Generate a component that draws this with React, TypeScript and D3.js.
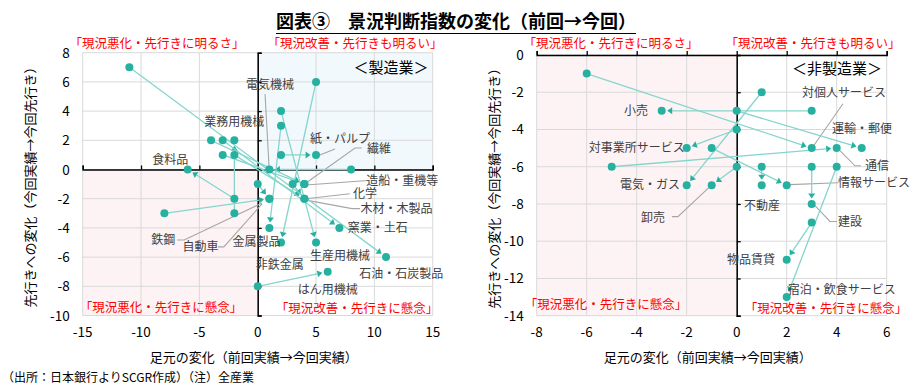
import React, { useEffect, useRef } from "react";
import * as d3 from "d3";

// 製造業 (前回 -> 今回)
const mfgNames = ["電気機械", "業務用機械", "食料品", "紙・パルプ", "繊維", "造船・重機等", "化学", "木材・木製品", "窯業・土石", "石油・石炭製品", "生産用機械", "はん用機械", "非鉄金属", "金属製品", "自動車", "鉄鋼"];
const mfgPrevX = [8, -2, -2, 2, -3, -4, -2, 3, -3, -11, 2, 0, 5, 2, 0, -8];
const mfgPrevY = [0, -3, -2, 1, 1, 2, 1, -1, 2, 7, 4, -8, 6, 3, -1, -3];
const mfgNowX = [1, -2, -6, 5, 4, 4, 4, 4, 7, 11, 5, 6, 2, 1, 1, 1];
const mfgNowY = [0, 2, 0, 1, -1, -1, -2, -2, -4, -6, -5, -7, -5, -4, -2, -2];

// 非製造業 (前回 -> 今回)
const nonNames = ["小売", "対事業所サービス", "電気・ガス", "卸売", "対個人サービス", "運輸・郵便", "通信", "情報サービス", "不動産", "建設", "物品賃貸", "宿泊・飲食サービス"];
const nonPrevX = [3, 0, 1, 0, -6, 0, -5, -1, 1, 3, 3, 4];
const nonPrevY = [-3, -4, -2, -6, -1, -3, -6, -5, -6, -6, -9, -6];
const nonNowX = [-3, -2, -2, -1, 3, 5, 4, 2, 1, 3, 2, 2];
const nonNowY = [-3, -5, -7, -7, -5, -5, -5, -7, -7, -8, -11, -13];

// tick labels
const mfgXTicks = [-15, -10, -5, 0, 5, 10, 15];
const mfgYTicks = [-10, -8, -6, -4, -2, 0, 2, 4, 6, 8];
const nonXTicks = [-8, -6, -4, -2, 0, 2, 4, 6];
const nonYTicks = [-14, -12, -10, -8, -6, -4, -2, 0];

// label placement (data coords) and leader lines, layout only
const mfgLabelPos = [[1.05, 5.8], [-2.0, 3.3], [-7.5, 0.7], [7.05, 2.15], [10.4, 1.45], [12.4, -0.75], [9.2, -1.66], [11.9, -2.66], [10.3, -4.0], [12.3, -7.1], [7.05, -5.9], [6.0, -8.25], [1.9, -6.5], [-0.1, -4.9], [-4.9, -5.3], [-8.1, -4.8]];
const mfgLeaders = [
  [[0.63, 5.17], [0.97, 0.24]],
  [[6.62, 1.4], [5.33, 0.99]],
  [[8.93, 1.47], [8.34, 1.47], [4.14, -0.92]],
  [[9.45, -0.75], [4.14, -1.06]],
  [[7.9, -1.66], [4.14, -2.0]],
  [[8.77, -2.68], [8.08, -2.68], [4.14, -2.1]],
  [[-3.4, -5.3], [-2.9, -5.3], [0.37, -2.36]],
  [[-6.9, -4.83], [-6.3, -4.83], [0.37, -2.3]],
];
const nonLabelPos = [[-4.03, -3.0], [-4.0, -4.98], [-3.47, -6.96], [-3.35, -8.73], [4.29, -2.04], [5.01, -3.96], [5.61, -5.95], [5.49, -6.86], [1.01, -8.09], [4.53, -8.94], [0.57, -10.98], [4.2, -12.6]];
const nonLeaders = [
  [[-2.59, -8.68], [-2.35, -8.68], [-1.03, -7.02]],
  [[4.25, -2.62], [3.05, -4.93]],
  [[4.97, -5.95], [4.73, -5.95], [4.13, -5.14]],
  [[4.05, -6.86], [2.13, -6.96]],
  [[4.01, -8.94], [3.73, -8.94], [3.13, -8.09]],
];

const FONT = "'Noto Sans CJK JP', 'Noto Sans', sans-serif";
const DOT = "#26b0a0";
const LINE = "#84d5cc";
const RED = "#ff0000";
const TXT = "#404040";

function drawPanel(svg, opt) {
  const x = d3.scaleLinear().domain(opt.xDomain).range(opt.xRange);
  const y = d3.scaleLinear().domain(opt.yDomain).range(opt.yRange);
  const g = svg.append("g");

  // quadrant shading
  opt.shades.forEach((s) => {
    g.append("rect")
      .attr("x", x(s[0]))
      .attr("y", y(s[3]))
      .attr("width", x(s[1]) - x(s[0]))
      .attr("height", y(s[2]) - y(s[3]))
      .attr("fill", s[4]);
  });

  // grid
  g.selectAll(".gx")
    .data(opt.xTicks)
    .join("line")
    .attr("x1", (d) => x(d))
    .attr("x2", (d) => x(d))
    .attr("y1", y(opt.yDomain[0]))
    .attr("y2", y(opt.yDomain[1]))
    .attr("stroke", "#d9d9d9");
  g.selectAll(".gy")
    .data(opt.yTicks)
    .join("line")
    .attr("y1", (d) => y(d))
    .attr("y2", (d) => y(d))
    .attr("x1", x(opt.xDomain[0]))
    .attr("x2", x(opt.xDomain[1]))
    .attr("stroke", "#d9d9d9");

  // axes through origin
  const hAxis = g.append("g").attr("transform", `translate(0,${y(0)})`);
  hAxis.call(d3.axisTop(x).tickValues(opt.xTicks).tickSize(4).tickFormat(() => ""));
  const vAxis = g.append("g").attr("transform", `translate(${x(0)},0)`);
  vAxis.call(d3.axisRight(y).tickValues(opt.yTicks).tickSize(4).tickFormat(() => ""));
  [hAxis, vAxis].forEach((a) => {
    a.select(".domain").attr("stroke", "#000").attr("stroke-width", 1.5);
    a.selectAll(".tick line").attr("stroke", "#000").attr("stroke-width", 1.3);
  });

  // tick labels
  g.selectAll(".tx")
    .data(opt.xTicks)
    .join("text")
    .attr("x", (d) => x(d))
    .attr("y", y(opt.yDomain[0]) + 21)
    .attr("text-anchor", "middle")
    .attr("font-size", 13.5)
    .attr("font-family", FONT)
    .attr("fill", "#000")
    .text((d) => d);
  g.selectAll(".ty")
    .data(opt.yTicks)
    .join("text")
    .attr("x", x(opt.xDomain[0]) - 13)
    .attr("y", (d) => y(d) + 5)
    .attr("text-anchor", "end")
    .attr("font-size", 13.5)
    .attr("font-family", FONT)
    .attr("fill", "#000")
    .text((d) => d);

  // leader lines
  const leader = d3.line().x((p) => x(p[0])).y((p) => y(p[1]));
  opt.leaders.forEach((l) => {
    g.append("path").attr("d", leader(l)).attr("fill", "none").attr("stroke", "#a6a6a6").attr("stroke-width", 1.1);
  });

  // arrows: previous -> current
  const r = 4;
  opt.prevX.forEach((_, i) => {
    const x1 = x(opt.prevX[i]), y1 = y(opt.prevY[i]);
    const x2 = x(opt.nowX[i]), y2 = y(opt.nowY[i]);
    const len = Math.hypot(x2 - x1, y2 - y1);
    const ux = (x2 - x1) / len, uy = (y2 - y1) / len;
    const tipX = x2 - ux * (r + 1.5), tipY = y2 - uy * (r + 1.5);
    const bx = tipX - ux * 5, by = tipY - uy * 5;
    g.append("line")
      .attr("x1", x1).attr("y1", y1).attr("x2", bx).attr("y2", by)
      .attr("stroke", LINE).attr("stroke-width", 1.3);
    g.append("path")
      .attr("d", `M${tipX},${tipY}L${bx - uy * 3.5},${by + ux * 3.5}L${bx + uy * 3.5},${by - ux * 3.5}Z`)
      .attr("fill", DOT);
  });
  const pts = opt.prevX.map((d, i) => [d, opt.prevY[i]]).concat(opt.nowX.map((d, i) => [d, opt.nowY[i]]));
  g.selectAll(".dot")
    .data(pts)
    .join("circle")
    .attr("cx", (d) => x(d[0]))
    .attr("cy", (d) => y(d[1]))
    .attr("r", r)
    .attr("fill", DOT);

  // industry labels
  g.selectAll(".lab")
    .data(opt.names)
    .join("text")
    .attr("x", (d, i) => x(opt.labelPos[i][0]))
    .attr("y", (d, i) => y(opt.labelPos[i][1]) + 4.5)
    .attr("text-anchor", "middle")
    .attr("font-size", 12)
    .attr("font-family", FONT)
    .attr("fill", TXT)
    .text((d) => d);

  // quadrant captions
  opt.captions.forEach((c) => {
    g.append("text")
      .attr("x", c[1]).attr("y", c[2])
      .attr("text-anchor", "middle")
      .attr("font-size", 12.5)
      .attr("font-family", FONT)
      .attr("fill", RED)
      .text(c[0]);
  });
  g.append("text")
    .attr("x", opt.tag[1]).attr("y", opt.tag[2])
    .attr("text-anchor", "middle")
    .attr("font-size", 15)
    .attr("font-family", FONT)
    .attr("fill", "#000")
    .text(opt.tag[0]);

  // axis titles
  const cx = (opt.xRange[0] + opt.xRange[1]) / 2;
  g.append("text")
    .attr("x", cx - 4).attr("y", 362)
    .attr("text-anchor", "middle")
    .attr("font-size", 13)
    .attr("font-family", FONT)
    .attr("fill", "#000")
    .text("足元の変化（前回実績→今回実績）");
  const cy = (opt.yRange[0] + opt.yRange[1]) / 2;
  g.append("text")
    .attr("transform", `translate(${opt.yTitleX},${cy}) rotate(-90)`)
    .attr("text-anchor", "middle")
    .attr("font-size", 13)
    .attr("font-family", FONT)
    .attr("fill", "#000")
    .text("先行きへの変化（今回実績→今回先行き）");
}

function App() {
  const ref = useRef(null);

  useEffect(() => {
    const svg = d3.select(ref.current);
    svg.selectAll("*").remove();
    svg.append("rect").attr("width", 910).attr("height", 387).attr("fill", "#fff");

    drawPanel(svg, {
      xDomain: [-15, 15], xRange: [82.7, 432.7],
      yDomain: [-10, 8], yRange: [315.5, 52.7],
      xTicks: mfgXTicks, yTicks: mfgYTicks,
      shades: [[0, 15, 0, 8, "#f1f9fd"], [-15, 0, -10, 0, "#fdf3f4"]],
      prevX: mfgPrevX, prevY: mfgPrevY, nowX: mfgNowX, nowY: mfgNowY,
      names: mfgNames, labelPos: mfgLabelPos, leaders: mfgLeaders,
      captions: [
        ["「現況悪化・先行きに明るさ」", 157, 47.5],
        ["「現況改善・先行きも明るい」", 355, 47.5],
        ["「現況悪化・先行きに懸念」", 161, 312],
        ["「現況改善・先行きに懸念」", 357, 313],
      ],
      tag: ["＜製造業＞", 391, 73],
      yTitleX: 35,
    });

    drawPanel(svg, {
      xDomain: [-8, 6], xRange: [536.7, 886.7],
      yDomain: [-14, 0], yRange: [315.7, 55],
      xTicks: nonXTicks, yTicks: nonYTicks,
      shades: [[-8, 0, -14, 0, "#fdf3f4"]],
      prevX: nonPrevX, prevY: nonPrevY, nowX: nonNowX, nowY: nonNowY,
      names: nonNames, labelPos: nonLabelPos, leaders: nonLeaders,
      captions: [
        ["「現況悪化・先行きに明るさ」", 611, 48],
        ["「現況改善・先行きも明るい」", 813, 48],
        ["「現況悪化・先行きに懸念」", 606, 309],
        ["「現況改善・先行きに懸念」", 826, 312.5],
      ],
      tag: ["＜非製造業＞", 837, 74],
      yTitleX: 499,
    });

    // title with underline
    const title = svg.append("text")
      .attr("x", 456).attr("y", 28)
      .attr("text-anchor", "middle")
      .attr("font-size", 18)
      .attr("font-weight", "bold")
      .attr("font-family", FONT)
      .attr("fill", "#000")
      .text("図表③　景況判断指数の変化（前回→今回）");
    const w = title.node().getComputedTextLength();
    svg.append("line")
      .attr("x1", 456 - w / 2).attr("x2", 456 + w / 2)
      .attr("y1", 33.5).attr("y2", 33.5)
      .attr("stroke", "#000").attr("stroke-width", 1.2);

    svg.append("text")
      .attr("x", 2).attr("y", 382)
      .attr("font-size", 12)
      .attr("font-family", FONT)
      .attr("fill", "#000")
      .text("（出所：日本銀行よりSCGR作成）（注）全産業");
  }, []);

  return (
    <svg ref={ref} width={910} height={387} style={{ position: "absolute", left: 0, top: 0 }} />
  );
}

export default App;
